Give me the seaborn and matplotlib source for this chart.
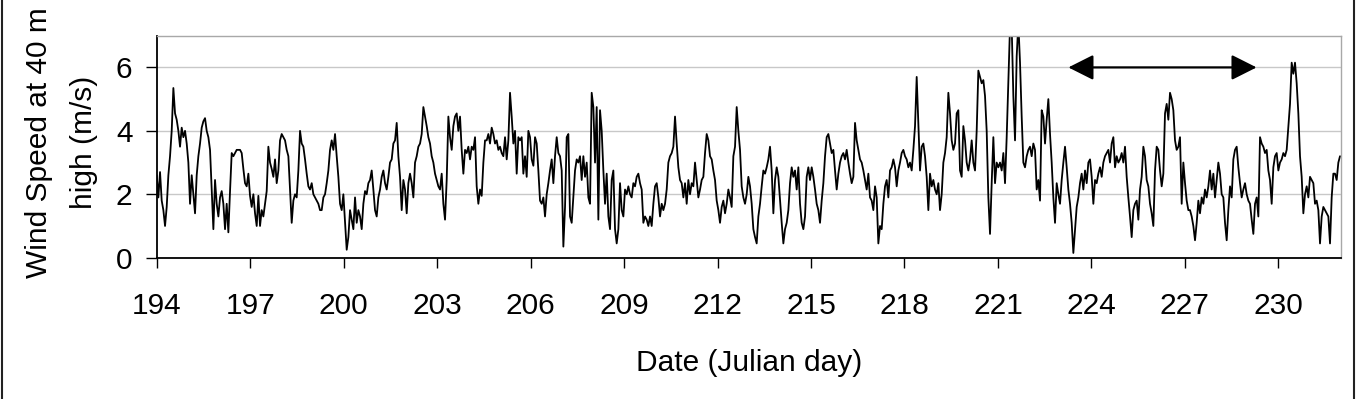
import numpy as np
import pandas as pd
import matplotlib
matplotlib.use("Agg")
import matplotlib.pyplot as plt
from matplotlib.lines import Line2D
import seaborn as sns

# ---- data (wind speed, m/s), consecutive samples ----
wind_194_200 = [
    2.6, 1.9, 2.7, 1.8, 1.5, 1.0, 1.6, 2.6, 3.2, 4.0,
    5.35, 4.55, 4.35, 4.0, 3.5, 4.1, 3.8, 4.0, 3.6, 3.0,
    1.7, 2.6, 2.0, 1.4, 2.6, 3.2, 3.6, 4.1, 4.3, 4.4,
    4.0, 3.8, 3.4, 2.15, 0.9, 2.45, 1.7, 1.3, 1.9, 2.1,
    1.7, 0.9, 1.7, 0.8, 2.1, 3.3, 3.2, 3.3, 3.4, 3.4,
    3.4, 3.3, 2.8, 2.35, 2.25, 2.65, 1.95, 1.6, 2.0, 1.4,
    1.0, 1.95, 1.0, 1.5, 1.3, 1.7, 2.1, 3.5, 3.0, 2.8,
    2.55, 3.1, 2.35, 2.75, 3.7, 3.9, 3.8, 3.7, 3.4, 3.2,
    2.15, 1.1, 1.8, 2.0, 1.9, 2.75, 4.0, 3.6, 3.5, 3.1,
    2.65, 2.25, 2.15, 2.35, 2.0, 1.9, 1.8, 1.7, 1.5, 1.5,
    1.9, 2.0, 2.35, 2.75, 3.4, 3.7, 3.4, 3.9, 3.2, 2.55,
    1.7, 1.5, 2.0, 1.1, 0.25, 0.65,
]
wind_200_207 = [
    1.5, 1.2, 0.9, 1.9, 1.1, 1.5, 1.3, 0.9, 1.7, 2.1,
    2.0, 2.35, 2.45, 2.75, 2.15, 1.5, 1.3, 1.9, 2.15, 2.55,
    2.75, 2.35, 2.15, 2.55, 3.0, 3.1, 3.6, 3.7, 4.25, 3.2,
    2.55, 1.5, 2.45, 2.15, 1.4, 2.35, 2.65, 2.35, 1.9, 3.0,
    3.2, 3.5, 3.6, 3.9, 4.75, 4.45, 4.15, 3.8, 3.6, 3.2,
    3.0, 2.65, 2.45, 2.25, 2.15, 2.65, 1.7, 1.2, 2.45, 4.45,
    3.8, 3.4, 4.15, 4.45, 4.55, 4.0, 4.45, 3.4, 2.65, 3.4,
    3.3, 3.5, 3.1, 3.5, 3.4, 3.8, 2.25, 1.7, 2.15, 1.95,
    3.0, 3.7, 3.7, 3.9, 3.6, 4.1, 3.9, 3.6, 3.7, 3.4,
    3.5, 3.3, 3.2, 3.8, 3.1, 3.7, 5.2, 4.45, 3.6, 4.0,
    2.65, 3.8, 3.7, 3.8, 2.65, 3.2, 2.55, 4.0, 3.8, 3.1,
    2.9, 3.8, 3.6, 2.75, 1.8, 1.7, 1.9, 1.3, 2.0, 2.35,
    2.75,
]
wind_207_213 = [
    3.1, 2.35, 3.2, 3.8, 3.3, 3.2, 2.75, 0.35, 1.6, 3.8,
    3.9, 1.3, 1.1, 1.9, 2.75, 3.1, 3.0, 3.2, 2.45, 3.2,
    2.55, 3.0, 1.9, 1.7, 5.2, 4.75, 3.0, 4.75, 1.2, 4.65,
    4.0, 2.75, 1.7, 2.65, 1.3, 0.9, 2.45, 2.75, 0.9, 0.45,
    0.9, 2.35, 1.5, 1.3, 2.15, 2.0, 2.25, 2.0, 1.9, 2.35,
    2.25, 2.55, 2.65, 2.35, 2.15, 1.1, 1.3, 1.2, 1.0, 1.3,
    1.0, 1.7, 2.25, 2.35, 1.9, 1.3, 1.7, 1.5, 1.7, 2.15,
    3.0, 3.2, 3.3, 3.5, 4.45, 3.6, 2.85, 2.45, 2.35, 1.9,
    2.35, 1.7, 2.45, 2.0, 2.35, 2.25, 3.0, 2.45, 1.9, 2.15,
    2.45, 2.55, 3.3, 3.9, 3.7, 3.2, 3.1, 2.75, 2.45, 1.8,
    1.5, 1.1, 1.6, 1.8, 1.4, 1.7, 2.15, 1.9, 1.6, 3.2,
    3.5, 4.75, 4.0, 3.4, 2.25, 1.9, 1.7, 2.0, 2.55,
]
wind_213_220 = [
    2.25, 1.7, 0.9, 0.65, 0.45, 1.3, 1.7, 2.25, 2.75, 2.65,
    2.85, 3.1, 3.5, 2.75, 1.4, 2.45, 2.85, 2.55, 1.8, 1.1,
    0.45, 0.9, 1.1, 1.5, 2.35, 2.85, 2.55, 2.75, 2.15, 2.85,
    1.7, 1.1, 0.9, 1.3, 2.55, 2.85, 2.45, 2.85, 2.55, 2.15,
    1.7, 1.5, 1.1, 1.8, 2.35, 3.2, 3.8, 3.9, 3.6, 3.3,
    3.4, 2.75, 2.15, 2.65, 3.0, 3.2, 3.3, 3.1, 3.4, 3.0,
    2.65, 2.35, 2.55, 4.25, 3.7, 3.4, 3.1, 3.0, 2.75, 2.45,
    2.15, 2.65, 1.9, 1.8, 1.5, 2.25, 1.9, 0.45, 1.0, 0.9,
    1.7, 2.25, 2.45, 1.9, 2.75, 2.85, 3.1, 2.85, 2.25, 2.75,
    3.0, 3.3, 3.4, 3.2, 3.1, 2.85, 3.0, 2.75, 3.4, 4.15,
    5.7, 4.25, 2.75, 3.5, 3.6, 3.2, 2.55, 1.5, 2.65, 2.25,
    2.45, 2.15, 2.0, 2.35, 1.5, 2.0, 3.0, 3.3, 3.8, 5.2,
]
wind_220_226 = [
    4.55, 3.7, 3.4, 3.6, 4.55, 4.65, 2.75, 2.55, 4.15, 3.7,
    3.0, 2.75, 3.1, 3.7, 3.0, 2.75, 4.0, 5.9, 5.7, 5.5,
    5.6, 5.1, 4.0, 1.9, 0.75, 2.35, 3.8, 2.35, 3.0, 2.85,
    3.0, 2.75, 3.3, 2.35, 3.8, 5.5, 7.3, 7.3, 5.1, 3.7,
    6.35, 7.4, 6.15, 4.45, 3.0, 2.85, 3.2, 3.4, 3.5, 3.2,
    3.6, 3.4, 2.15, 2.45, 1.8, 4.65, 4.45, 3.6, 4.35, 5.0,
    3.9, 3.0, 1.9, 1.1, 2.35, 2.0, 1.7, 2.45, 3.0, 3.5,
    2.85, 2.15, 1.7, 1.1, 0.15, 0.9, 1.6, 1.9, 2.35, 2.65,
    2.15, 2.75, 2.35, 3.0, 3.1, 2.55, 1.7, 2.45, 2.35, 2.65,
    2.85, 2.55, 3.0, 3.2, 3.3, 3.4, 3.0, 3.6, 3.8, 2.85,
    3.2, 3.0, 3.1, 3.3, 3.0, 3.5, 2.55, 1.9, 1.3, 0.65,
    1.5, 1.7, 1.8, 1.2,
]
wind_226_232 = [
    2.15, 2.55, 3.5, 3.2, 2.45, 2.25, 1.7, 1.4, 1.0, 2.75,
    3.5, 3.4, 2.75, 2.25, 2.65, 4.55, 4.85, 4.35, 5.2, 5.0,
    4.65, 3.7, 3.4, 3.5, 3.8, 1.7, 3.0, 2.35, 1.8, 1.5,
    1.5, 1.3, 1.0, 0.55, 1.1, 1.8, 1.4, 1.9, 1.7, 2.15,
    1.9, 2.25, 2.75, 2.15, 2.65, 1.9, 2.45, 3.0, 2.65, 2.0,
    1.9, 1.1, 0.55, 1.5, 2.25, 1.9, 3.1, 3.4, 3.5, 2.85,
    2.35, 1.9, 2.15, 2.35, 2.0, 1.8, 1.7, 1.2, 0.75, 1.7,
    1.9, 1.3, 3.8, 3.6, 3.5, 3.3, 3.4, 2.75, 2.45, 1.7,
    2.85, 3.2, 3.3, 2.75, 3.0, 3.1, 3.3, 3.2, 3.4, 4.15,
    4.85, 6.15, 5.8, 6.15, 5.5, 4.55, 3.2, 2.55, 1.4, 2.0,
    2.25, 1.9, 2.55, 2.45, 2.35, 1.7, 1.8, 1.5, 0.45, 1.3,
    1.6, 1.5, 1.4, 1.3, 0.45, 1.9, 2.65, 2.65, 2.45, 3.0,
    3.2,
]

start_day = 194.0
sample_step_days = 0.05349          # spacing of consecutive readings
x_ticks = [194, 197, 200, 203, 206, 209, 212, 215, 218, 221, 224, 227, 230]
y_ticks = [0, 2, 4, 6]
arrow_start, arrow_end, arrow_level = 223.26, 229.30, 6

wind = np.concatenate([wind_194_200, wind_200_207, wind_207_213,
                       wind_213_220, wind_220_226, wind_226_232])
days = start_day + np.arange(len(wind)) * sample_step_days
df = pd.DataFrame({"day": days, "wind": wind})

# ---- style ----
sns.set_style("white")
plt.rcParams["font.family"] = ["Liberation Sans", "DejaVu Sans"]
plt.rcParams["text.color"] = "black"
plt.rcParams["axes.labelcolor"] = "black"
plt.rcParams["xtick.color"] = "black"
plt.rcParams["ytick.color"] = "black"
FS = 21.5

fig = plt.figure(figsize=(13.7, 3.99), dpi=100)
W, H = 1370, 399
ax = fig.add_axes([156.7 / W, 1 - 257.7 / H, (1340.7 - 156.7) / W, (257.7 - 35.7) / H])

sns.lineplot(data=df, x="day", y="wind", ax=ax, color="black", linewidth=1.3,
             estimator=None, sort=False)

ax.set_xlim(194, 232)
ax.set_ylim(0, 7)
ax.set_xticks(x_ticks)
ax.set_yticks(y_ticks)
ax.set_xticklabels([str(t) for t in x_ticks], fontsize=FS, color="black")
ax.set_yticklabels([str(t) for t in y_ticks], fontsize=FS, color="black")

ax.yaxis.grid(True, color="#c8c8c8", linewidth=1.0)
ax.xaxis.grid(False)
ax.set_axisbelow(True)

for side in ["left", "bottom"]:
    ax.spines[side].set_color("black")
    ax.spines[side].set_linewidth(1.3)
for side in ["top", "right"]:
    ax.spines[side].set_color("#a8a8a8")
    ax.spines[side].set_linewidth(1.0)

ax.tick_params(axis="x", direction="out", length=7.5, width=1.0, color="black",
               labelcolor="black", pad=17, bottom=True)
ax.tick_params(axis="y", direction="out", length=8, width=1.0, color="black",
               labelcolor="black", pad=9.5, left=True)

ax.set_xlabel("Date (Julian day)", fontsize=FS, color="black")
ax.xaxis.set_label_coords(0.5, -0.411)
ax.xaxis.label.set_va("top")

ax.set_ylabel("Wind Speed at 40 m\nhigh (m/s)", fontsize=FS, linespacing=1.75,
              color="black")
ax.yaxis.set_label_coords((98 - 156.7) / (1340.7 - 156.7), 0.52)

ax.annotate("", xy=(arrow_start, arrow_level), xytext=(arrow_end, arrow_level),
            arrowprops=dict(arrowstyle="<|-|>,head_length=1.55,head_width=0.78",
                            mutation_scale=10, color="black", lw=1.6,
                            shrinkA=0, shrinkB=0))

# outer chart frame (left and right edges visible in the reference)
for xp in (2.0, 1354.0):
    fig.add_artist(Line2D([xp / W, xp / W], [0, 1], transform=fig.transFigure,
                          color="#222222", linewidth=1.5))

fig.savefig("out.png", dpi=100, facecolor="white")
